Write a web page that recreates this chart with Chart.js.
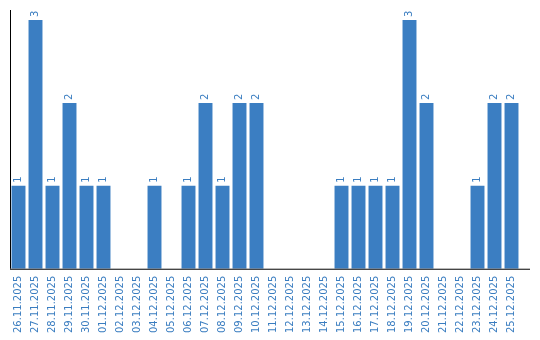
<!DOCTYPE html>
<html>
<head>
<meta charset="utf-8">
<script src="https://cdn.jsdelivr.net/npm/chart.js@4/dist/chart.umd.min.js"></script>
<style>
  html, body { margin: 0; padding: 0; background: #fff; }
  #wrap { width: 540px; height: 340px; }
</style>
</head>
<body>
<div id="wrap"><canvas id="chart"></canvas></div>
<script>
const labels = [
  "26.11.2025", "27.11.2025", "28.11.2025", "29.11.2025", "30.11.2025",
  "01.12.2025", "02.12.2025", "03.12.2025", "04.12.2025", "05.12.2025",
  "06.12.2025", "07.12.2025", "08.12.2025", "09.12.2025", "10.12.2025",
  "11.12.2025", "12.12.2025", "13.12.2025", "14.12.2025", "15.12.2025",
  "16.12.2025", "17.12.2025", "18.12.2025", "19.12.2025", "20.12.2025",
  "21.12.2025", "22.12.2025", "23.12.2025", "24.12.2025", "25.12.2025"
];
const counts = [1, 3, 1, 2, 1, 1, 0, 0, 1, 0, 1, 2, 1, 2, 2, 0, 0, 0, 0, 1, 1, 1, 1, 3, 2, 0, 0, 1, 2, 2];

const blue = '#3b7ec2';
const textBlue = '#3a7dc0';

// value labels above bars, rotated like the tick labels
const valueLabels = {
  id: 'valueLabels',
  afterDatasetsDraw(chart) {
    const ctx = chart.ctx;
    const meta = chart.getDatasetMeta(0);
    ctx.save();
    ctx.font = '10px "DejaVu Sans"';
    ctx.fillStyle = textBlue;
    ctx.textAlign = 'left';
    ctx.textBaseline = 'middle';
    meta.data.forEach((bar, i) => {
      const v = counts[i];
      if (!v) return;
      ctx.save();
      ctx.translate(bar.x, bar.y - 3);
      ctx.rotate(-Math.PI / 2);
      ctx.fillText(String(v), 0, 0);
      ctx.restore();
    });
    ctx.restore();
  }
};

// axis lines (x line runs a little past the last category)
const axisLines = {
  id: 'axisLines',
  afterDraw(chart) {
    const { ctx, chartArea } = chart;
    ctx.save();
    ctx.strokeStyle = '#000';
    ctx.lineWidth = 1;
    ctx.beginPath();
    ctx.moveTo(chartArea.left + 0.5, chartArea.top);
    ctx.lineTo(chartArea.left + 0.5, chartArea.bottom);
    ctx.moveTo(chartArea.left, chartArea.bottom + 0.5);
    ctx.lineTo(chartArea.right + 10, chartArea.bottom + 0.5);
    ctx.stroke();
    ctx.restore();
  }
};

new Chart(document.getElementById('chart'), {
  type: 'bar',
  data: {
    labels: labels,
    datasets: [{
      data: counts,
      backgroundColor: blue,
      barPercentage: 0.82,
      categoryPercentage: 1
    }]
  },
  options: {
    responsive: true,
    maintainAspectRatio: false,
    animation: false,
    layout: { padding: { left: 10, top: 10, right: 20, bottom: 0 } },
    plugins: {
      legend: { display: false },
      tooltip: { enabled: false }
    },
    scales: {
      x: {
        grid: { display: false, drawTicks: false },
        border: { display: false },
        ticks: {
          autoSkip: false,
          minRotation: 90,
          maxRotation: 90,
          padding: 7,
          color: textBlue,
          font: { family: 'DejaVu Sans', size: 10 }
        }
      },
      y: {
        min: 0,
        max: 3.12,
        grid: { display: false, drawTicks: false },
        border: { display: false },
        ticks: { display: false }
      }
    }
  },
  plugins: [valueLabels, axisLines]
});
</script>
</body>
</html>
